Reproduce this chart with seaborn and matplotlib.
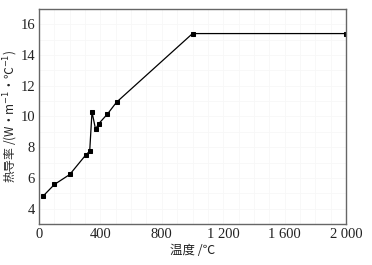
import matplotlib
matplotlib.use("Agg")
import matplotlib.pyplot as plt
from matplotlib.ticker import FixedLocator, MultipleLocator
import seaborn as sns
import pandas as pd

# Data
temperature = [25, 100, 200, 305, 330, 345, 368, 388, 445, 505, 1000, 2000]
conductivity = [4.8, 5.57, 6.22, 7.5, 7.74, 10.3, 9.17, 9.52, 10.15, 10.93, 15.4, 15.4]
x_ticks = [0, 200, 400, 600, 800, 1000, 1200, 1400, 1600, 1800, 2000]
x_tick_labels = ["0", "", "400", "", "800", "", "1 200", "", "1 600", "", "2 000"]
y_ticks = [4, 6, 8, 10, 12, 14, 16]

df = pd.DataFrame({"temperature": temperature, "conductivity": conductivity})

sns.set_style("white")
plt.rcParams["font.family"] = ["Liberation Serif", "Noto Sans CJK SC", "DejaVu Sans"]
plt.rcParams["axes.unicode_minus"] = False

fig = plt.figure(figsize=(3.72, 2.65), dpi=100)
ax = fig.add_axes([0.105, 0.155, 0.825, 0.811])

sns.lineplot(data=df, x="temperature", y="conductivity", ax=ax,
             color="black", linewidth=0.9, marker="s", markersize=3.4,
             markeredgecolor="black", markerfacecolor="black")

ax.set_xlim(0, 2000)
ax.set_ylim(3, 17)
ax.xaxis.set_major_locator(FixedLocator(x_ticks))
ax.set_xticklabels(x_tick_labels)
ax.set_yticks(y_ticks)

# faint background grid
ax.xaxis.set_minor_locator(MultipleLocator(100))
ax.yaxis.set_minor_locator(MultipleLocator(1))
ax.grid(which="both", color="#f7f7f7", linewidth=0.6)
ax.set_axisbelow(True)

ax.tick_params(axis="both", which="major", direction="in", length=3, width=0.8,
               colors="#222222", labelsize=10.5, pad=3)
ax.tick_params(axis="both", which="minor", length=0)
for s in ax.spines.values():
    s.set_color("#666666")
    s.set_linewidth(1.0)

ax.set_xlabel("温度 /℃", fontsize=9, color="#222222",
              family=["Noto Sans CJK SC", "DejaVu Sans"], labelpad=2)
ax.set_ylabel("热导率 /(W·m$^{-1}$·℃$^{-1}$)", fontsize=8.5, color="#222222",
              family=["Noto Sans CJK SC", "DejaVu Sans"], labelpad=0)

fig.savefig("out.png", dpi=100)
plt.close(fig)
